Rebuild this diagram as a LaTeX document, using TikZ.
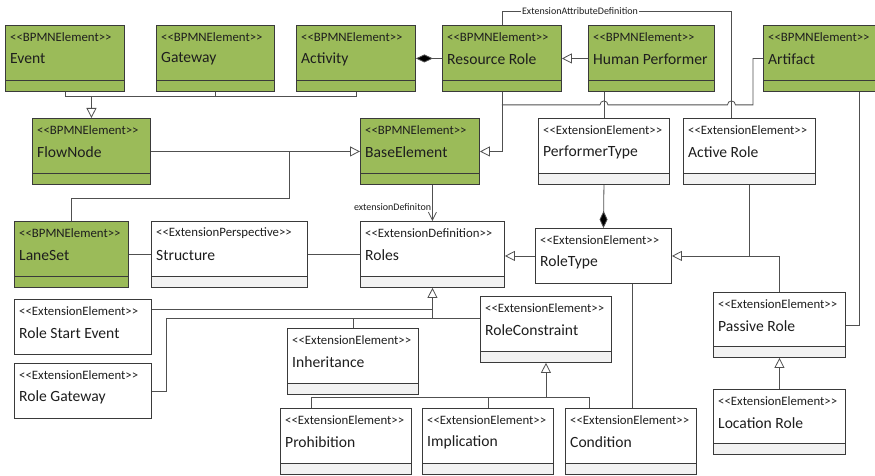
\documentclass[tikz,border=0pt]{standalone}
\usepackage{fontspec}
\usepackage{xcolor}
\usepackage{tikz}
\usetikzlibrary{arrows.meta,calc}
\newfontfamily\umlfont{Carlito}
\definecolor{BPMNGreen}{HTML}{9BBB59}
\definecolor{BoxLine}{HTML}{3A3A3A}
\definecolor{ConnLine}{HTML}{505050}
\definecolor{CompGrey}{HTML}{F2F2F2}
\definecolor{UMLText}{HTML}{1E1E1E}

\tikzset{
  classbox/.style={draw=BoxLine, line width=0.9pt, inner sep=0pt, anchor=north west},
  compart/.style={path picture={
    \fill[#1] (path picture bounding box.south west) rectangle ([yshift=11pt]path picture bounding box.south east);
    \draw[BoxLine, line width=0.9pt] ([yshift=11pt]path picture bounding box.south west) -- ([yshift=11pt]path picture bounding box.south east);}},
  bpmn/.style={classbox, fill=BPMNGreen, compart=BPMNGreen},
  ext/.style={classbox, fill=white, compart=CompGrey},
  extplain/.style={classbox, fill=white},
  stereo/.style={font=\umlfont\fontsize{12.8}{14}\selectfont, text=UMLText, inner sep=0pt, anchor=west},
  cname/.style={font=\umlfont\fontsize{15.6}{17}\selectfont, text=UMLText, inner sep=0pt, anchor=west},
  elabel/.style={font=\umlfont\fontsize{10}{11}\selectfont, text=UMLText, inner sep=1pt},
  conn/.style={draw=ConnLine, line width=0.8pt},
  gen/.style={conn, -{Triangle[length=10pt,width=10pt,fill=white]}},
  comp/.style={conn, -{Diamond[length=17pt,width=8pt,fill=black]}},
  assoc/.style={conn, -{Straight Barb[length=8pt,width=8pt]}},
}

% style, name, x, y, width, height, stereotype, class name
\newcommand\umlclass[8]{%
  \node[#1, minimum width=#5pt, minimum height=#6pt] (#2) at (#3,#4) {};
  \node[stereo] (#2-s) at ([xshift=5pt,yshift=-12.5pt]#2.north west) {<<#7>>};
  \node[cname] (#2-n) at ([xshift=5pt,yshift=-34pt]#2.north west) {#8};
}

\begin{document}
\begin{tikzpicture}[x=1pt,y=-1pt]
\useasboundingbox (0,0) rectangle (875,476);
\clip (0,0) rectangle (875,476);

% BPMN elements
\umlclass{bpmn}{ev}{5}{25}{119}{66}{BPMNElement}{Event}
\umlclass{bpmn}{gw}{156}{25}{118}{66}{BPMNElement}{Gateway}
\umlclass{bpmn}{act}{296}{25}{119}{66}{BPMNElement}{Activity}
\umlclass{bpmn}{rr}{442}{25}{119}{66}{BPMNElement}{Resource Role}
\umlclass{bpmn}{hp}{588}{25}{126}{66}{BPMNElement}{Human Performer}
\umlclass{bpmn}{art}{763}{25}{120}{66}{BPMNElement}{Artifact}
\umlclass{bpmn}{fn}{32}{118}{118}{66}{BPMNElement}{FlowNode}
\umlclass{bpmn}{be}{360}{118}{119}{66}{BPMNElement}{BaseElement}
\umlclass{bpmn}{ls}{14}{221}{114}{66}{BPMNElement}{LaneSet}

% extension
\umlclass{ext}{pt}{538}{118}{131}{66}{ExtensionElement}{PerformerType}
\umlclass{ext}{ar}{683}{118}{132}{66}{ExtensionElement}{Active Role}
\umlclass{ext}{st}{151}{221}{156}{66}{ExtensionPerspective}{Structure}
\umlclass{ext}{ro}{360}{221}{144}{66}{ExtensionDefinition}{Roles}
\umlclass{extplain}{rt}{535}{228}{136}{55}{ExtensionElement}{RoleType}
\umlclass{extplain}{rse}{14}{299}{137}{55}{ExtensionElement}{Role Start Event}
\umlclass{extplain}{rg}{14}{363}{137}{55}{ExtensionElement}{Role Gateway}
\umlclass{ext}{inh}{287}{328}{131}{66}{ExtensionElement}{Inheritance}
\umlclass{ext}{rc}{480}{296}{131}{66}{ExtensionElement}{RoleConstraint}
\umlclass{ext}{pro}{280}{408}{131}{66}{ExtensionElement}{Prohibition}
\umlclass{ext}{imp}{422}{408}{131}{66}{ExtensionElement}{Implication}
\umlclass{ext}{cond}{565}{408}{131}{66}{ExtensionElement}{Condition}
\umlclass{ext}{pr}{713}{292}{132}{65}{ExtensionElement}{Passive Role}
\umlclass{ext}{lr}{713}{389}{132}{65}{ExtensionElement}{Location Role}

% helper points
\coordinate (jfn) at ([yshift=22pt]fn.north);
\coordinate (jrr) at ([yshift=-13pt]rr.south);
\coordinate (aea) at ([xshift=-18pt]ar.north);
\coordinate (jls) at ([xshift=138pt]fn.east);
\coordinate (jrc) at ([yshift=11pt]rc.west);
\coordinate (rsec) at ([yshift=17.5pt]rse.east);
\coordinate (jcs) at ([yshift=11pt]imp.north);
\coordinate (pcon) at ([xshift=-34.5pt]pro.north);
\coordinate (ccon) at ([xshift=-41.5pt]cond.north);
\coordinate (rcd) at ([xshift=1.5pt]cond.north);

% top row
\draw[conn] (ev.south) |- (jfn);
\draw[conn] (act.south) |- (jfn);
\draw[conn] (gw.south) -- (gw.south |- jfn);
\draw[gen] (jfn) -- (fn.north);
\draw[comp] (rr.west) -- (act.east);
\draw[gen] (hp.west) -- (rr.east);
\draw[gen] (rr.south) |- (be.east);
\draw[conn] (art.west) -- ++(-10,0) |- ($(aea |- jrr)+(4,0)$)
  arc[start angle=0,end angle=180,radius=4pt] -- ($(pt.north |- jrr)+(4,0)$)
  arc[start angle=0,end angle=180,radius=4pt] -- (jrr);
\draw[conn] (rr.north) -- ++(0,-14) -| node[elabel, fill=white, pos=0.17] (ead) {ExtensionAttributeDefinition} (aea);
\draw[conn] (pt.north) -- (pt.north |- hp.south);

% roles
\draw[comp] (pt.south) -- (rt.north);
\draw[conn] (pr.north) |- (ar.south |- rt.east);
\draw[gen] (ar.south) |- (rt.east);
\draw[gen] (lr.north) -- (pr.south);
\draw[conn] ([xshift=36pt]art.south) |- (pr.east);
\draw[gen] (rt.west) -- (rt.west -| ro.east);
\draw[conn] (rcd) -- (rcd |- rt.south);
\draw[gen] (fn.east) -- (be.west);
\draw[conn] (ls.north) -- ++(0,-23) -| (jls);
\draw[conn] (ls.east) -- (st.west);
\draw[conn] (st.east) -- (ro.west);
\draw[assoc] (ro.north |- be.south) -- node[elabel, anchor=east, pos=0.62] (edl) {extensionDefiniton} (ro.north);

% constraints
\draw[conn] (rsec) -- (rsec -| ro.south);
\draw[conn] (rg.east) -- ++(14,0) |- (jrc);
\draw[conn] (inh.north) -- (inh.north |- jrc);
\draw[gen] (ro.south |- jrc) -- (ro.south);
\draw[conn] (pcon) |- (ccon |- jcs) -- (ccon);
\draw[conn] (imp.north) -- (jcs);
\draw[gen] (jcs) -| (rc.south);
\end{tikzpicture}
\end{document}
